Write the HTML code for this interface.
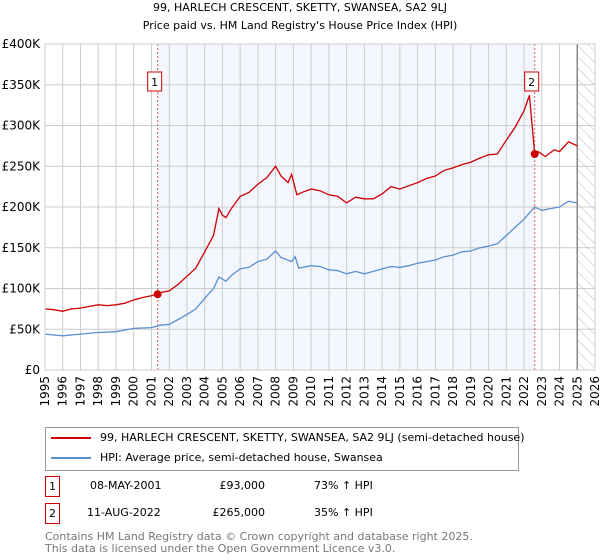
<!DOCTYPE html>
<html><head><meta charset="utf-8"><style>
body{margin:0;width:600px;height:560px;background:#fff;font-family:"DejaVu Sans","Liberation Sans",sans-serif;overflow:hidden;position:relative}
.t{position:absolute;white-space:nowrap;font-size:11px;color:#000}
.box{position:absolute;border:1px solid #c00;width:13px;height:19px;text-align:center;line-height:19px;font-size:11px}
</style></head><body>
<div class="t" style="left:0;width:600px;text-align:center;top:1px">99, HARLECH CRESCENT, SKETTY, SWANSEA, SA2 9LJ</div>
<div class="t" style="left:0;width:600px;text-align:center;top:19px">Price paid vs. HM Land Registry's House Price Index (HPI)</div>
<svg id="chart" width="600" height="420" style="position:absolute;left:0;top:0" font-family="DejaVu Sans, Liberation Sans, sans-serif" font-size="12"></svg>
<div style="position:absolute;left:45px;top:427px;width:472px;height:42px;border:1px solid #999"></div>
<div style="position:absolute;left:51px;top:437px;width:40px;height:2px;background:#cc0000"></div>
<div class="t" style="left:100px;top:431px">99, HARLECH CRESCENT, SKETTY, SWANSEA, SA2 9LJ (semi-detached house)</div>
<div style="position:absolute;left:51px;top:457px;width:40px;height:2px;background:#5b8fd1"></div>
<div class="t" style="left:100px;top:451px">HPI: Average price, semi-detached house, Swansea</div>
<div class="box" style="left:45px;top:476px">1</div>
<div class="t" style="left:90px;top:479px">08-MAY-2001</div>
<div class="t" style="left:205px;width:60px;text-align:right;top:479px">£93,000</div>
<div class="t" style="left:314px;top:479px">73% ↑ HPI</div>
<div class="box" style="left:45px;top:503px">2</div>
<div class="t" style="left:87px;top:506px">11-AUG-2022</div>
<div class="t" style="left:205px;width:60px;text-align:right;top:506px">£265,000</div>
<div class="t" style="left:314px;top:506px">35% ↑ HPI</div>
<div class="t" style="left:45px;top:531px;color:#777;line-height:12px">Contains HM Land Registry data © Crown copyright and database right 2025.<br>This data is licensed under the Open Government Licence v3.0.</div>
<script>
const yTicks=[0,50,100,150,200,250,300,350,400];
const yTickLabels=["£0","£50K","£100K","£150K","£200K","£250K","£300K","£350K","£400K"];
const years=[1995,1996,1997,1998,1999,2000,2001,2002,2003,2004,2005,2006,2007,2008,2009,2010,2011,2012,2013,2014,2015,2016,2017,2018,2019,2020,2021,2022,2023,2024,2025,2026];
const propT=[1995,1995.5,1996,1996.5,1997,1997.5,1998,1998.5,1999,1999.5,2000,2000.5,2001,2001.35,2001.5,2002,2002.5,2003,2003.5,2004,2004.5,2004.8,2005,2005.2,2005.5,2006,2006.5,2007,2007.5,2008,2008.3,2008.7,2008.9,2009.2,2009.5,2010,2010.5,2011,2011.5,2012,2012.5,2013,2013.5,2014,2014.5,2015,2015.5,2016,2016.5,2017,2017.5,2018,2018.5,2019,2019.5,2020,2020.5,2021,2021.5,2022,2022.3,2022.6,2022.8,2023.2,2023.7,2024,2024.5,2025];
const propV=[75,74,72,75,76,78,80,79,80,82,86,89,91,93,95,97,105,115,125,145,165,198,190,187,198,213,218,228,236,250,238,230,240,215,218,222,220,215,213,205,212,210,210,216,225,222,226,230,235,238,245,248,252,255,260,264,265,282,298,318,337,265,268,262,270,268,280,275];
const hpiT=[1995,1996,1997,1998,1999,2000,2001,2001.5,2002,2002.5,2003,2003.5,2004,2004.5,2004.8,2005.2,2005.5,2006,2006.5,2007,2007.5,2008,2008.3,2008.9,2009.1,2009.3,2010,2010.5,2011,2011.5,2012,2012.5,2013,2013.5,2014,2014.5,2015,2015.5,2016,2016.5,2017,2017.5,2018,2018.5,2019,2019.5,2020,2020.5,2021,2021.5,2022,2022.6,2023,2023.5,2024,2024.5,2025];
const hpiV=[44,42,44,46,47,51,52,55,56,62,68,75,88,100,114,109,116,124,126,133,136,146,138,133,139,125,128,127,123,122,118,121,118,121,124,127,126,128,131,133,135,139,141,145,146,150,152,155,165,175,185,200,196,198,200,207,205];
const sales=[[2001.35,93],[2022.6,265]];
const L=45,R=595,T=44,B=370;
const x=t=>L+(t-1995)/(2026-1995)*(R-L);
const y=v=>B-v/400*(B-T);
const svg=document.getElementById('chart');const NS='http://www.w3.org/2000/svg';
function el(tag,attrs,parent){const e=document.createElementNS(NS,tag);for(const k in attrs)e.setAttribute(k,attrs[k]);(parent||svg).appendChild(e);return e;}
let e;
e=el('rect',{x:x(sales[0][0]),y:T,width:x(sales[1][0])-x(sales[0][0]),height:B-T,fill:'#f3f6fd'});


const defs=el('defs',{});const pat=el('pattern',{id:'h',width:8,height:8,patternUnits:'userSpaceOnUse',patternTransform:'rotate(-45)'},defs);
el('line',{x1:0,y1:0,x2:0,y2:8,stroke:'#bbb','stroke-width':1},pat);
e=el('rect',{x:x(2025),y:T,width:R-x(2025),height:B-T,fill:'url(#h)'});


years.forEach(yr=>{e=el('line',{x1:x(yr),x2:x(yr),y1:T,y2:B,stroke:'#ccc'});


e=el('text',{transform:`translate(${x(yr)+4},${B+6}) rotate(-90)`,'text-anchor':'end'});e.textContent=yr;

});
yTicks.forEach((v,i)=>{e=el('line',{x1:L,x2:R,y1:y(v),y2:y(v),stroke:'#ccc'});


e=el('text',{x:L-5,y:y(v)+4,'text-anchor':'end'});e.textContent=yTickLabels[i];

});
e=el('line',{x1:x(2025),x2:x(2025),y1:T,y2:B,stroke:'#888','stroke-width':1.5});


sales.forEach((s,i)=>{e=el('line',{x1:x(s[0]),x2:x(s[0]),y1:T,y2:B,stroke:'#e06060','stroke-dasharray':'2,2'});


e=el('rect',{x:x(s[0])-10,y:72,width:14,height:19,fill:'#fff',stroke:'#c00'});


e=el('text',{x:x(s[0])-3,y:86,'text-anchor':'middle','font-size':11});e.textContent=i+1;

});
const pts=(T_,V_)=>T_.map((t,i)=>x(t).toFixed(1)+','+y(V_[i]).toFixed(1)).join(' ');
e=el('polyline',{points:pts(hpiT,hpiV),fill:'none',stroke:'#5b8fd1','stroke-width':1.3});


e=el('polyline',{points:pts(propT,propV),fill:'none',stroke:'#cc0000','stroke-width':1.3});


sales.forEach(s=>{e=el('circle',{cx:x(s[0]),cy:y(s[1]),r:4,fill:'#cc0000'});

});
e=el('rect',{x:L,y:T,width:R-L,height:B-T,fill:'none',stroke:'#ccc'});


</script>
</body></html>
